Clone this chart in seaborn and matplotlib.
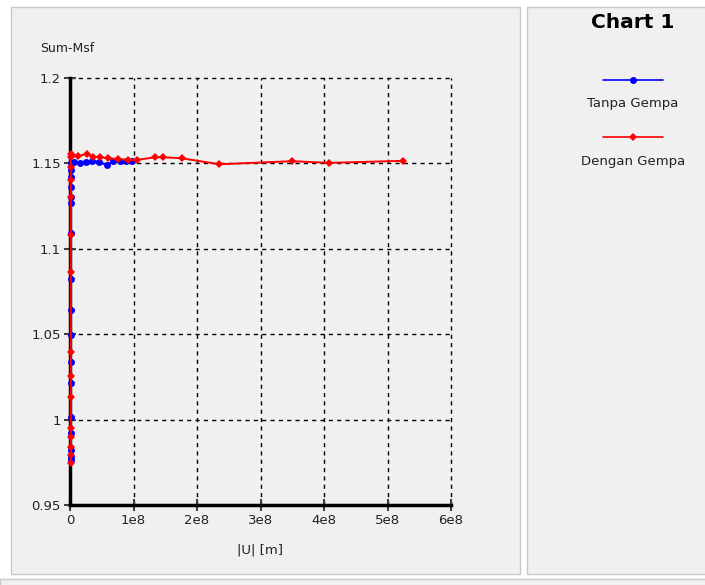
import matplotlib
matplotlib.use("Agg")
import matplotlib.pyplot as plt
from matplotlib.patches import Rectangle
from matplotlib.lines import Line2D
from matplotlib.ticker import FixedLocator, FixedFormatter
import seaborn as sns
import pandas as pd

# ---------------- data ----------------
series_names = ["Tanpa Gempa", "Dengan Gempa"]

tanpa_x = [0.010e8, 0.010e8, 0.010e8, 0.010e8, 0.010e8, 0.010e8, 0.010e8, 0.010e8,
           0.010e8, 0.010e8, 0.010e8, 0.010e8, 0.010e8, 0.010e8, 0.010e8, 0.010e8,
           0.012e8, 0.07e8, 0.15e8, 0.25e8, 0.35e8, 0.45e8, 0.58e8, 0.68e8,
           0.78e8, 0.88e8, 0.97e8]
tanpa_y = [0.9763, 0.978, 0.9822, 0.992, 1.0017, 1.0213, 1.0339, 1.0495,
           1.0642, 1.0821, 1.109, 1.1268, 1.1305, 1.1364, 1.1422, 1.1461,
           1.150, 1.151, 1.1505, 1.151, 1.1512, 1.151, 1.149, 1.1512,
           1.1512, 1.1512, 1.1512]

dengan_x = [0.014e8, 0.014e8, 0.014e8, 0.014e8, 0.014e8, 0.014e8, 0.014e8, 0.014e8,
            0.014e8, 0.014e8, 0.014e8, 0.014e8, 0.014e8, 0.014e8, 0.016e8,
            0.03e8, 0.13e8, 0.26e8, 0.37e8, 0.47e8, 0.60e8, 0.76e8, 0.92e8,
            1.05e8, 1.34e8, 1.47e8, 1.76e8, 2.35e8, 3.50e8, 4.08e8, 5.24e8]
dengan_y = [0.9744, 0.9793, 0.984, 0.99, 0.9949, 1.0134, 1.0258, 1.0398,
            1.0866, 1.108, 1.1305, 1.140, 1.148, 1.154, 1.1555,
            1.155, 1.1543, 1.1555, 1.1539, 1.1536, 1.153, 1.1525, 1.152,
            1.152, 1.1536, 1.1536, 1.153, 1.1495, 1.1513, 1.1503, 1.1515]

x_ticks = [0, 1e8, 2e8, 3e8, 4e8, 5e8, 6e8]
x_tick_labels = ["0", "1e8", "2e8", "3e8", "4e8", "5e8", "6e8"]
y_ticks = [0.95, 1.0, 1.05, 1.1, 1.15, 1.2]
y_tick_labels = ["0.95", "1", "1.05", "1.1", "1.15", "1.2"]

title_text = "Chart 1"
x_label = "|U| [m]"
y_label = "Sum-Msf"

# ---------------- figure ----------------
sns.set_theme(style="white")
plt.rcParams["font.family"] = ["DejaVu Sans"]

W, H = 705, 585
fig = plt.figure(figsize=(W / 100, H / 100), dpi=100, facecolor="white")

def fx(p):
    return p / W

def fy(p):
    return 1 - p / H

def rect(x0, y0, x1, y1, fc, ec="none", lw=0):
    fig.patches.append(Rectangle((fx(x0), fy(y1)), fx(x1) - fx(x0), fy(y0) - fy(y1),
                                 transform=fig.transFigure, facecolor=fc,
                                 edgecolor=ec, linewidth=lw, zorder=-10))

panel = "#f0f0f0"
rect(11, 7, 520, 574, panel, "#c8c8c8", 1)
rect(527, 7, 706, 574, panel, "#c8c8c8", 1)
rect(0, 578.5, 706, 586, panel, "#c8c8c8", 1)

ax = fig.add_axes([fx(70), fy(505), fx(451) - fx(70), fy(78) - fy(505)])
ax.set_facecolor(panel)
ax.set_zorder(2)

df_t = pd.DataFrame({"x": tanpa_x, "y": tanpa_y})
df_d = pd.DataFrame({"x": dengan_x, "y": dengan_y})

sns.lineplot(data=df_t, x="x", y="y", sort=False, estimator=None, ax=ax,
             color="#0000ff", lw=1.6, marker="o", markersize=5,
             markeredgewidth=0, legend=False, zorder=6)
sns.lineplot(data=df_d, x="x", y="y", sort=False, estimator=None, ax=ax,
             color="#ff0000", lw=1.4, marker="D", markersize=4.3,
             markeredgewidth=0, legend=False, zorder=7)
for ln in ax.lines:
    ln.set_clip_on(False)

ax.set_xlim(0, 6e8)
ax.set_ylim(0.95, 1.2)
ax.xaxis.set_major_locator(FixedLocator(x_ticks))
ax.xaxis.set_major_formatter(FixedFormatter(x_tick_labels))
ax.yaxis.set_major_locator(FixedLocator(y_ticks))
ax.yaxis.set_major_formatter(FixedFormatter(y_tick_labels))

ax.grid(True, color="black", linestyle=(0, (3, 3)), linewidth=1)
ax.set_axisbelow(True)
for gl in ax.get_xgridlines() + ax.get_ygridlines():
    gl.set_clip_on(False)
for s in ["top", "right"]:
    ax.spines[s].set_visible(False)
for s in ["left", "bottom"]:
    ax.spines[s].set_visible(True)
    ax.spines[s].set_color("black")
    ax.spines[s].set_linewidth(2.5)
    ax.spines[s].set_zorder(2.5)

ax.tick_params(axis="both", which="major", direction="inout", length=9, width=1.5,
               color="#404040", labelsize=9.5, labelcolor="#222222", pad=2,
               bottom=True, left=True)

ax.set_xlabel("")
ax.set_ylabel("")
fig.text(fx(40), fy(48), y_label, fontsize=9, color="#222222", ha="left", va="center")
fig.text(fx(260), fy(550), x_label, fontsize=9.5, color="#222222", ha="center", va="center")

# title and legend in right panel
fig.text(fx(633), fy(22), title_text, fontsize=14.5, fontweight="bold",
         color="black", ha="center", va="center")

fig.add_artist(Line2D([fx(603), fx(633), fx(663)], [fy(80)] * 3, transform=fig.transFigure,
                      color="#0000ff", lw=1.2, marker="o", markersize=5,
                      markevery=[1], markeredgewidth=0))
fig.text(fx(633), fy(104), series_names[0], fontsize=9.5, color="#222222",
         ha="center", va="center")
fig.add_artist(Line2D([fx(603), fx(633), fx(663)], [fy(137)] * 3, transform=fig.transFigure,
                      color="#ff0000", lw=1.2, marker="D", markersize=4.3,
                      markevery=[1], markeredgewidth=0))
fig.text(fx(633), fy(161), series_names[1], fontsize=9.5, color="#222222",
         ha="center", va="center")

fig.savefig("out.png", dpi=100, facecolor="white")
